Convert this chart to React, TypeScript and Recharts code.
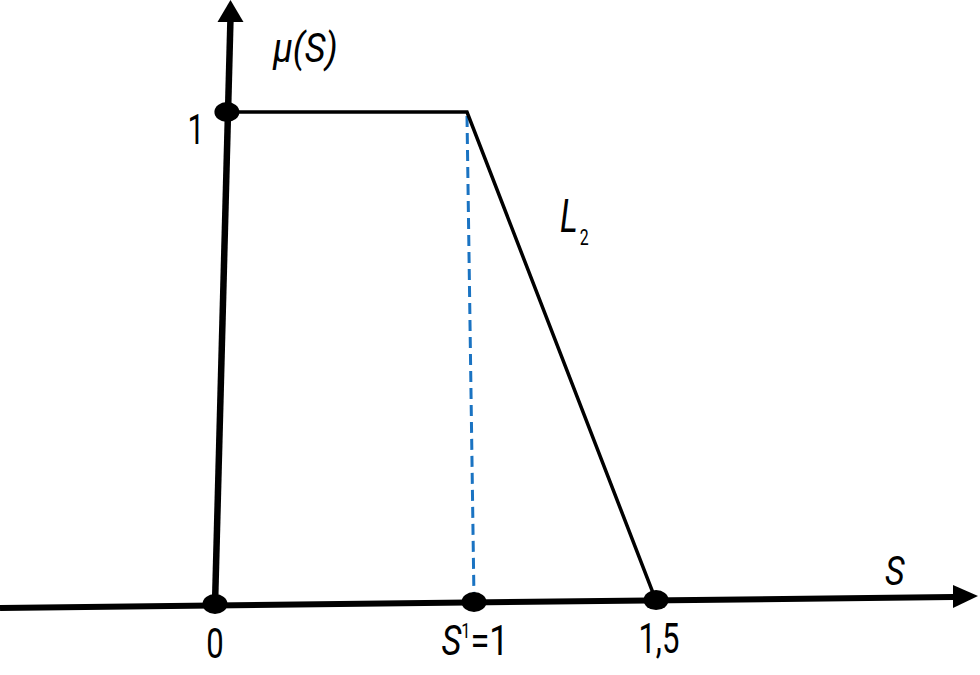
import React from 'react';
import { ComposedChart, Line, Scatter, XAxis, YAxis } from 'recharts';

const W = 980;
const H = 675;
const X_DOMAIN: [number, number] = [-0.8301, 2.9537];
const Y_DOMAIN: [number, number] = [-0.1446, 1.2301];
const FONT = 'Roboto, "Noto Sans", sans-serif';

// Axes (hand-drawn, slightly tilted), in S / μ units
const yAxisLine = [
  { s: 0, mu: -0.002 },
  { s: 0.0595, mu: 1.187 },
];
const xAxisLine = [
  { s: -0.83, mu: -0.008 },
  { s: 2.85, mu: 0.0143 },
];
// Membership function μ(S): plateau at 1, then falling edge L2
const membership = [
  { s: 0.046, mu: 1.002 },
  { s: 0.973, mu: 1.002 },
  { s: 1.699, mu: 0.012 },
];
const dashedGuide = [
  { s: 0.973, mu: 0.994 },
  { s: 1.0, mu: 0.01 },
];
const keyPoints = [
  { s: 0.046, mu: 1.002 },
  { s: 0, mu: 0 },
  { s: 1, mu: 0.004 },
  { s: 1.703, mu: 0.008 },
];
const arrowHeads = [
  { s: 0.0598, mu: 1.23, dir: 'up' },
  { s: 2.946, mu: 0.0163, dir: 'right' },
];
const labels = [
  { s: -0.0734, mu: 0.937, kind: 'one', text: '1' },
  { s: 0.224, mu: 1.104, kind: 'muS', text: 'μ(S)' },
  { s: 1.332, mu: 0.758, kind: 'L2', text: 'L' },
  { s: 2.625, mu: 0.0387, kind: 'axisS', text: 'S' },
  { s: 0, mu: -0.11, kind: 'tick', text: '0' },
  { s: 1.004, mu: -0.104, kind: 'S1', text: 'S' },
  { s: 1.714, mu: -0.0998, kind: 'tick', text: '1,5' },
];

const DotShape = (p: any) => (
  <ellipse cx={p.cx} cy={p.cy} rx={12.5} ry={10} fill="#000" />
);

const ArrowShape = (p: any) => {
  const { cx, cy, payload } = p;
  if (payload.dir === 'up') {
    return <polygon points={`${cx},${cy} ${cx - 13},${cy + 22} ${cx + 13},${cy + 22}`} fill="#000" />;
  }
  return <polygon points={`${cx},${cy} ${cx - 25},${cy - 11} ${cx - 25},${cy + 12}`} fill="#000" />;
};

const LabelShape = (p: any) => {
  const { cx, cy, payload } = p;
  const base = { fontFamily: FONT, fill: '#000' } as any;
  const tf = (sx: number) => `translate(${cx},${cy}) scale(${sx},1)`;
  switch (payload.kind) {
    case 'one':
      return <text x={0} y={0} transform={tf(0.72)} textAnchor="middle" fontSize={42} {...base}>{payload.text}</text>;
    case 'muS':
      return <text x={0} y={0} transform={tf(0.9)} textAnchor="start" fontSize={40} fontStyle="italic" {...base}>{payload.text}</text>;
    case 'L2':
      return (
        <text x={0} y={0} transform={tf(0.72)} textAnchor="start" fontSize={47} {...base}>
          <tspan fontStyle="italic">{payload.text}</tspan>
          <tspan fontSize={22} dx={3} dy={13}>2</tspan>
        </text>
      );
    case 'axisS':
      return <text x={0} y={0} transform={tf(0.85)} textAnchor="middle" fontSize={40} fontStyle="italic" {...base}>{payload.text}</text>;
    case 'S1':
      return (
        <text x={0} y={0} transform={tf(0.82)} textAnchor="middle" fontSize={42} {...base}>
          <tspan fontStyle="italic">{payload.text}</tspan>
          <tspan fontSize={20} dy={-17}>1</tspan>
          <tspan dy={17}>=1</tspan>
        </text>
      );
    default:
      return <text x={0} y={0} transform={tf(0.74)} textAnchor="middle" fontSize={42} {...base}>{payload.text}</text>;
  }
};

export default function App() {
  return (
    <div style={{ position: 'absolute', left: 0, top: 0, width: W, height: H, background: '#fff' }}>
      <ComposedChart width={W} height={H} margin={{ top: 0, right: 0, bottom: 0, left: 0 }}>
        <XAxis type="number" dataKey="s" domain={X_DOMAIN} hide allowDataOverflow />
        <YAxis type="number" dataKey="mu" domain={Y_DOMAIN} hide allowDataOverflow />
        <Line data={yAxisLine} dataKey="mu" type="linear" stroke="#000" strokeWidth={6.5} dot={false} activeDot={false} isAnimationActive={false} />
        <Line data={xAxisLine} dataKey="mu" type="linear" stroke="#000" strokeWidth={6} dot={false} activeDot={false} isAnimationActive={false} />
        <Line data={dashedGuide} dataKey="mu" type="linear" stroke="#1a73c2" strokeWidth={3} strokeDasharray="11 6" dot={false} activeDot={false} isAnimationActive={false} />
        <Line data={membership} dataKey="mu" type="linear" stroke="#000" strokeWidth={3.5} dot={false} activeDot={false} isAnimationActive={false} />
        <Scatter data={keyPoints} dataKey="mu" shape={DotShape} isAnimationActive={false} />
        <Scatter data={arrowHeads} dataKey="mu" shape={ArrowShape} isAnimationActive={false} />
        <Scatter data={labels} dataKey="mu" shape={LabelShape} isAnimationActive={false} />
      </ComposedChart>
    </div>
  );
}
